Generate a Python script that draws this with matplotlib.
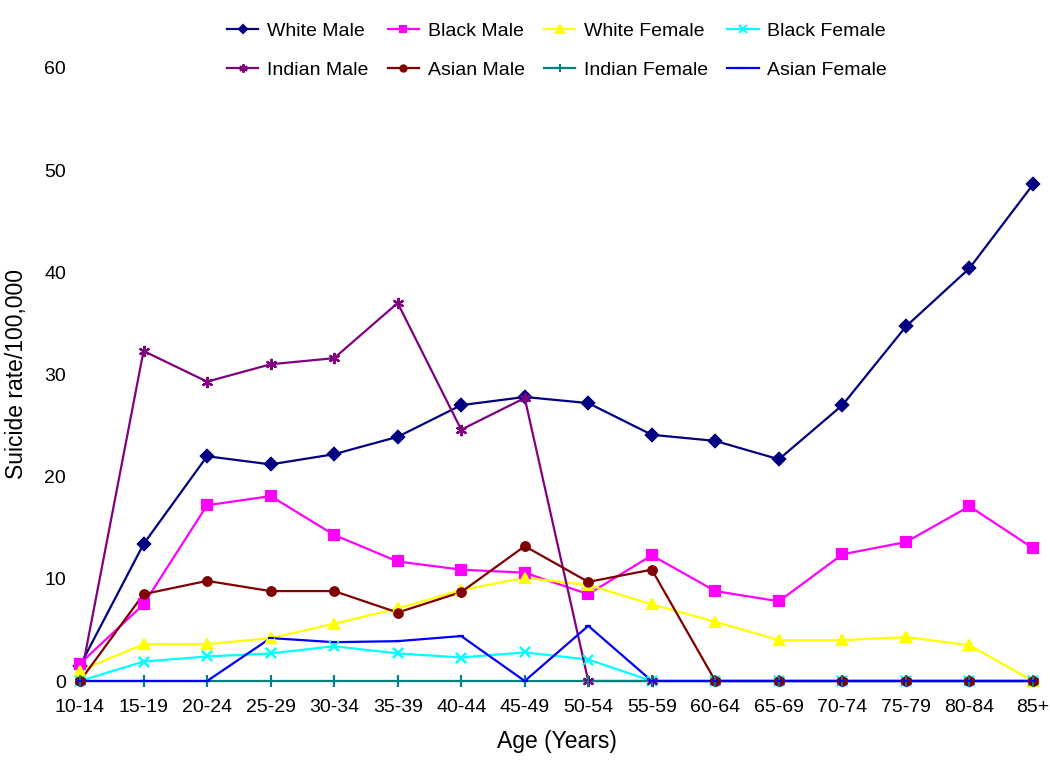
import matplotlib
matplotlib.use("Agg")
import matplotlib.pyplot as plt

plt.rcParams['font.family'] = ['Liberation Sans', 'DejaVu Sans']

ages = ["10-14", "15-19", "20-24", "25-29", "30-34", "35-39", "40-44", "45-49",
        "50-54", "55-59", "60-64", "65-69", "70-74", "75-79", "80-84", "85+"]

white_male = [1.5, 13.4, 22.0, 21.2, 22.2, 23.9, 27.0, 27.8, 27.2, 24.1, 23.5, 21.7, 27.0, 34.7, 40.4, 48.6]
black_male = [1.7, 7.5, 17.2, 18.1, 14.3, 11.7, 10.9, 10.6, 8.5, 12.3, 8.8, 7.8, 12.4, 13.6, 17.1, 13.0]
white_female = [1.0, 3.6, 3.6, 4.2, 5.6, 7.1, 8.9, 10.1, 9.4, 7.5, 5.8, 4.0, 4.0, 4.3, 3.5, 0.0]
black_female = [0.0, 1.9, 2.4, 2.7, 3.4, 2.7, 2.3, 2.8, 2.1, 0.0, 0.0, 0.0, 0.0, 0.0, 0.0, 0.0]
indian_male = [0.0, 32.3, 29.3, 31.0, 31.6, 37.0, 24.6, 27.7, 0.0, 0.0, 0.0, 0.0, 0.0, 0.0, 0.0, 0.0]
asian_male = [0.0, 8.5, 9.8, 8.8, 8.8, 6.7, 8.7, 13.2, 9.7, 10.9, 0.0, 0.0, 0.0, 0.0, 0.0, 0.0]
indian_female = [0.0] * 16
asian_female = [0.0, 0.0, 0.0, 4.2, 3.8, 3.9, 4.4, 0.0, 5.4, 0.0, 0.0, 0.0, 0.0, 0.0, 0.0, 0.0]

series = [
    ("White Male", white_male, "#000080", "D", 6),
    ("Black Male", black_male, "#FF00FF", "s", 6.5),
    ("White Female", white_female, "#FFFF00", "^", 7),
    ("Black Female", black_female, "#00FFFF", "x", 7),
    ("Indian Male", indian_male, "#800080", (6, 2, 0), 8),
    ("Asian Male", asian_male, "#800000", "o", 6),
    ("Indian Female", indian_female, "#008080", "|", 8),
    ("Asian Female", asian_female, "#0000FF", "_", 5),
]

fig = plt.figure(figsize=(10.5, 7.69), dpi=100)
ax = fig.add_axes([80 / 1050, 1 - 681 / 769, 953 / 1050, 613 / 769])

x = list(range(len(ages)))
handles = []
for i, (name, vals, col, mk, ms) in enumerate(series):
    h, = ax.plot(x, vals, color=col, lw=1.6, marker=mk, markersize=ms,
                 markeredgewidth=1.5, label=name, zorder=2 + i * 0.1, clip_on=False)
    handles.append(h)
# markers on top of all lines
for name, vals, col, mk, ms in series:
    ax.plot(x, vals, linestyle="none", color=col, marker=mk, markersize=ms,
            markeredgewidth=1.5, zorder=5, clip_on=False)

ax.set_xlim(0, len(ages) - 1)
ax.set_ylim(0, 60)
ax.set_xticks(x)
ax.set_xticklabels(ages, fontsize=14)
ax.set_yticks(range(0, 61, 10))
ax.tick_params(axis="y", length=0, pad=10, labelsize=14)
ax.tick_params(axis="x", length=0, pad=13)
for s in ax.spines.values():
    s.set_visible(False)

ax.set_xlabel("Age (Years)", fontsize=16.5, labelpad=10)
ax.set_ylabel("Suicide rate/100,000", fontsize=16.5, labelpad=12)

# legend is filled row by row in the original, matplotlib fills columns
order = [0, 4, 1, 5, 2, 6, 3, 7]
fig.legend([handles[k] for k in order], [series[k][0] for k in order],
           loc="center", bbox_to_anchor=(557 / 1050, 1 - 51 / 769), ncol=4,
           frameon=False, fontsize=14, handlelength=1.6, handletextpad=0.45,
           columnspacing=1.0, labelspacing=1.1, markerscale=0.75)

fig.savefig("out.png", dpi=100)
